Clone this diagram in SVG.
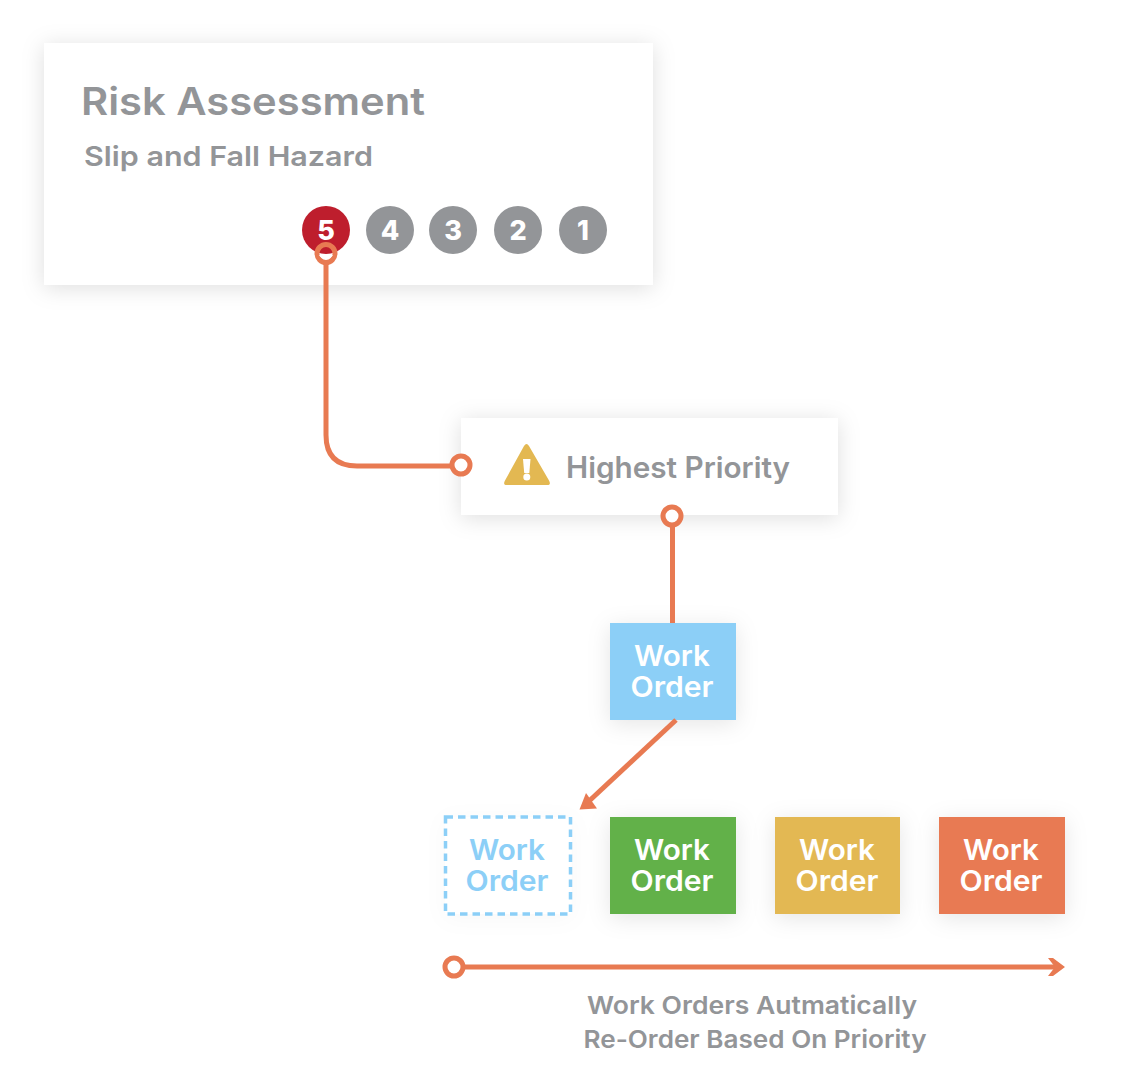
<svg xmlns="http://www.w3.org/2000/svg" width="1131" height="1081" viewBox="0 0 1131 1081">
<defs>
<filter id="sh" x="-20%" y="-40%" width="140%" height="190%"><feDropShadow dx="0" dy="3" stdDeviation="11" flood-color="#000" flood-opacity="0.13"/></filter>
<filter id="sh2" x="-50%" y="-50%" width="200%" height="200%"><feDropShadow dx="0" dy="4" stdDeviation="11" flood-color="#000" flood-opacity="0.10"/></filter>
</defs>
<style>
text{font-family:"Inter","Open Sans","Liberation Sans",sans-serif;font-weight:600}
.g{fill:#939598}
.w{fill:#fff;font-size:28px;text-anchor:middle}
.n{fill:#fff;font-size:27px;font-weight:800;text-anchor:middle}
.c{fill:none;stroke:#e87a52;stroke-width:5}
.r{fill:#fff;stroke:#e87a52;stroke-width:5}
.h{fill:#e87a52}
</style>
<rect width="1131" height="1081" fill="#fff"/>
<g id="risk-card">
<rect x="44" y="43" width="609" height="242" fill="#fff" filter="url(#sh)"/>
<text class="g" x="81" y="115" font-size="38" textLength="344" lengthAdjust="spacingAndGlyphs">Risk Assessment</text>
<text class="g" x="84" y="166" font-size="27.5" textLength="289" lengthAdjust="spacingAndGlyphs">Slip and Fall Hazard</text>
</g>
<g id="score-5"><circle cx="326" cy="230" r="24" fill="#be1e2d"/><text class="n" x="326" y="239.500">5</text></g>
<g id="score-4"><circle cx="390" cy="230" r="24" fill="#939598"/><text class="n" x="390" y="239.500">4</text></g>
<g id="score-3"><circle cx="453" cy="230" r="24" fill="#939598"/><text class="n" x="453" y="239.500">3</text></g>
<g id="score-2"><circle cx="518" cy="230" r="24" fill="#939598"/><text class="n" x="518" y="239.500">2</text></g>
<g id="score-1"><circle cx="583" cy="230" r="24" fill="#939598"/><text class="n" x="583" y="239.500">1</text></g>
<g id="priority">
<rect x="461" y="418" width="377" height="97" fill="#fff" filter="url(#sh)"/>
<path d="M529 446 L549 480.500 Q551.500 485 547 485 L507 485 Q502.500 485 505 480.500 L524 446 Q526.500 442 529 446 Z" fill="#e3b852"/>
<path d="M523 459 h7.500 l-1.200 14 h-5.100 Z" fill="#fff"/><circle cx="526.800" cy="477" r="3.500" fill="#fff"/>
<text class="g" x="566" y="478" font-size="29.500" textLength="224" lengthAdjust="spacingAndGlyphs">Highest Priority</text>
</g>
<g id="work-order-blue"><rect x="610" y="623" width="126" height="97" fill="#8ccff7" filter="url(#sh2)"/><text class="w" x="672" y="666" textLength="76" lengthAdjust="spacingAndGlyphs">Work</text><text class="w" x="672" y="697" textLength="83" lengthAdjust="spacingAndGlyphs">Order</text></g>
<g id="work-order-dashed"><rect x="445.500" y="817" width="126" height="97" fill="#fff" filter="url(#sh2)" fill-opacity="0.3"/><rect x="445.500" y="817" width="125" height="97" fill="#fff" stroke="#8ccff7" stroke-width="3.500" stroke-dasharray="7.500 5"/><text class="w" x="507" y="860" textLength="76" lengthAdjust="spacingAndGlyphs" style="fill:#8ccff7">Work</text><text class="w" x="507" y="891" textLength="83" lengthAdjust="spacingAndGlyphs" style="fill:#8ccff7">Order</text></g>
<g id="work-order-green"><rect x="610" y="817" width="126" height="97" fill="#62b14a" filter="url(#sh2)"/><text class="w" x="672" y="860" textLength="76" lengthAdjust="spacingAndGlyphs">Work</text><text class="w" x="672" y="891" textLength="83" lengthAdjust="spacingAndGlyphs">Order</text></g>
<g id="work-order-yellow"><rect x="775" y="817" width="125" height="97" fill="#e3b852" filter="url(#sh2)"/><text class="w" x="837" y="860" textLength="76" lengthAdjust="spacingAndGlyphs">Work</text><text class="w" x="837" y="891" textLength="83" lengthAdjust="spacingAndGlyphs">Order</text></g>
<g id="work-order-orange"><rect x="939" y="817" width="126" height="97" fill="#e87a52" filter="url(#sh2)"/><text class="w" x="1001" y="860" textLength="76" lengthAdjust="spacingAndGlyphs">Work</text><text class="w" x="1001" y="891" textLength="83" lengthAdjust="spacingAndGlyphs">Order</text></g>
<g id="connectors">
<path class="c" d="M326 263 V435 Q326 466 357 466 H452"/>
<circle class="r" cx="326" cy="253.500" r="9" style="fill:none"/>
<path d="M319 255 A8 8 0 0 0 333 255 Z" fill="#fff"/>
<circle class="r" cx="461" cy="465" r="9"/>
<path class="c" d="M672.500 525 V623"/>
<circle class="r" cx="672" cy="516" r="9"/>
<path class="c" d="M676 720 L587 803"/>
<path class="h" d="M579.500 809.500 L586 793 L597 808.500 Z"/>
<path class="c" d="M464 967 H1060"/>
<path class="h" d="M1048 958 L1053 958 L1065 967 L1053 976 L1048 976 L1055 967 Z"/>
<circle class="r" cx="454" cy="967" r="9"/>
</g>
<g id="caption">
<text class="g" x="752" y="1014" font-size="24.500" text-anchor="middle" textLength="330" lengthAdjust="spacingAndGlyphs">Work Orders Autmatically</text>
<text class="g" x="755" y="1048" font-size="24.500" text-anchor="middle" textLength="343" lengthAdjust="spacingAndGlyphs">Re-Order Based On Priority</text>
</g>
</svg>
